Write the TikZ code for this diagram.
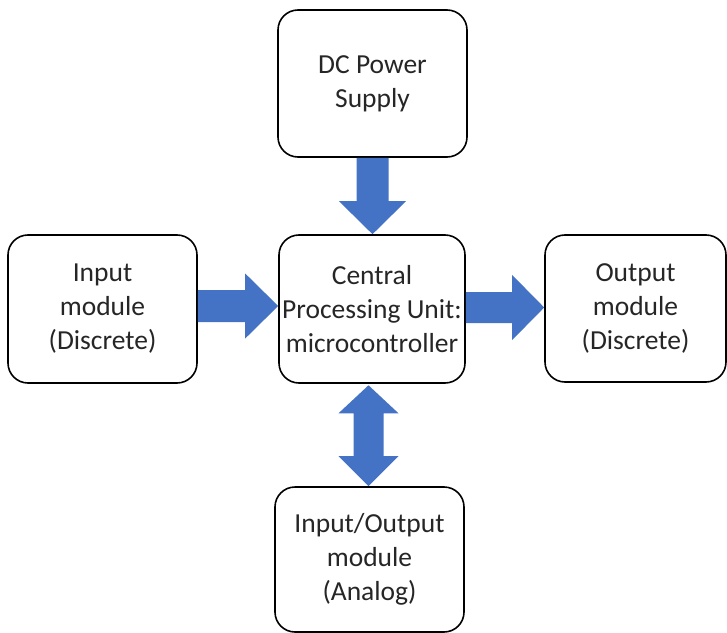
\documentclass[tikz,border=0pt]{standalone}
\usepackage{fontspec}
\setmainfont{Carlito}
\usetikzlibrary{calc}
\definecolor{arrowblue}{HTML}{4472C4}
\tikzset{
  block/.style={draw=black, line width=1.6bp, rounded corners=20bp, fill=white,
    align=center, inner sep=0pt, font=\fontsize{27.5bp}{34bp}\selectfont,
    text=black!85},
  flow/.style={fill=arrowblue, draw=none}
}
\begin{document}
\begin{tikzpicture}[x=1bp, y=-1bp]
\useasboundingbox (0,0) rectangle (727,633);

% module boxes
\node[block, minimum width=189bp, minimum height=147bp] (dc)  at (372.5,83.5) {DC Power\\Supply};
\node[block, minimum width=189bp, minimum height=148bp] (in)  at (102.5,309) {Input\\module\\(Discrete)};
\node[block, minimum width=186bp, minimum height=148bp] (cpu) at (372,309) {Central\\Processing Unit:\\microcontroller};
\node[block, minimum width=181bp, minimum height=147bp] (out) at (635.5,308.5) {Output\\module\\(Discrete)};
\node[block, minimum width=189bp, minimum height=145bp] (io)  at (369.5,559.5) {Input/Output\\module\\(Analog)};

% power supply -> CPU (downward block arrow)
\fill[flow] let \p1=(dc.south), \p2=(cpu.north) in
  (\x1-16bp,\y1) -- (\x1+16bp,\y1) -- (\x1+16bp,\y2+33bp) -- (\x1+33.5bp,\y2+33bp)
  -- (\x1,\y2) -- (\x1-33.5bp,\y2+33bp) -- (\x1-16bp,\y2+33bp) -- cycle;

% input module -> CPU (rightward block arrow)
\fill[flow] let \p1=($(in.east)+(0,-3)$), \p2=(cpu.west) in
  (\x1,\y1+16bp) -- (\x1,\y1-16bp) -- (\x2-33bp,\y1-16bp) -- (\x2-33bp,\y1-32.5bp)
  -- (\x2,\y1) -- (\x2-33bp,\y1+32.5bp) -- (\x2-33bp,\y1+16bp) -- cycle;

% CPU -> output module (rightward block arrow)
\fill[flow] let \p1=($(cpu.east)+(0,-1.5)$), \p2=(out.west) in
  (\x1,\y1+15.5bp) -- (\x1,\y1-15.5bp) -- (\x2-32bp,\y1-15.5bp) -- (\x2-32bp,\y1-32.5bp)
  -- (\x2,\y1) -- (\x2-32bp,\y1+32.5bp) -- (\x2-32bp,\y1+15.5bp) -- cycle;

% CPU <-> analog I/O module (double-headed block arrow)
\fill[flow] let \p1=($(cpu.south)+(-3.5,1.5)$), \p2=($(io.north)+(-1.5,0)$) in
  (\x1,\y1) -- (\x1+30bp,\y1-28bp) -- (\x1+15bp,\y1-28bp) -- (\x1+15bp,\y2+30bp)
  -- (\x1+30bp,\y2+30bp) -- (\x1,\y2) -- (\x1-30bp,\y2+30bp) -- (\x1-15bp,\y2+30bp)
  -- (\x1-15bp,\y1-28bp) -- (\x1-30bp,\y1-28bp) -- cycle;
\end{tikzpicture}
\end{document}
